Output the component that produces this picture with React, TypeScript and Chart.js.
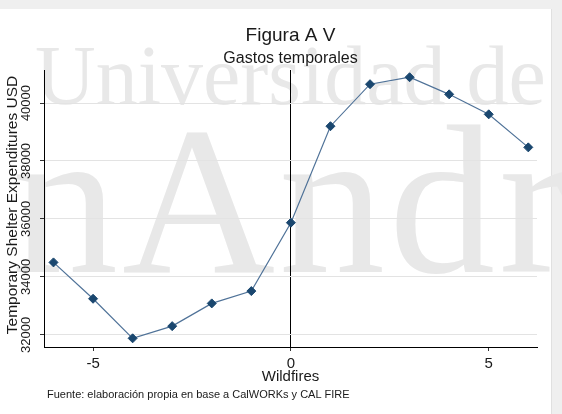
import React, { useEffect, useRef } from "react";
import { Chart, registerables } from "chart.js";

Chart.register(...registerables);

const xValues = [-6, -5, -4, -3, -2, -1, 0, 1, 2, 3, 4, 5, 6];
const spending = [34500, 33245, 31880, 32300, 33085, 33510, 35870, 39200, 40650, 40890, 40300, 39610, 38470];
const xTicks = [-5, 0, 5];
const yTicks = [32000, 34000, 36000, 38000, 40000];
const titleText = "Figura A V";
const subtitleText = "Gastos temporales";
const xTitle = "Wildfires";
const yTitle = "Temporary Shelter Expenditures USD";
const sourceNote = "Fuente: elaboración propia en base a CalWORKs y CAL FIRE";
const watermarkTop = "Universidad de";
const watermarkBottom = "nAndr";

const SANS = '"Liberation Sans", Arial, Helvetica, sans-serif';
const SERIF = '"Liberation Serif", "Times New Roman", serif';
const INK = "#1a1a1a";

const decor = {
  id: "decor",
  beforeDraw(chart: any) {
    const { ctx, width, height } = chart;
    ctx.save();
    ctx.fillStyle = "#efefef";
    ctx.fillRect(0, 0, width, height);
    ctx.fillStyle = "#ffffff";
    ctx.fillRect(0, 9, 551, height - 9);
    ctx.strokeStyle = "#e0e0e0";
    ctx.lineWidth = 1;
    ctx.beginPath();
    ctx.moveTo(551.5, 9);
    ctx.lineTo(551.5, height);
    ctx.stroke();
    ctx.fillStyle = "#e8e8e8";
    ctx.textAlign = "left";
    ctx.textBaseline = "alphabetic";
    ctx.font = `84px ${SERIF}`;
    ctx.fillText(watermarkTop, 35, 104);
    ctx.font = `212px ${SERIF}`;
    try { (ctx as any).letterSpacing = "4px"; } catch (e) {}
    ctx.fillText(watermarkBottom, 12, 272);
    try { (ctx as any).letterSpacing = "0px"; } catch (e) {}
    ctx.restore();
  },
  afterDraw(chart: any) {
    const { ctx, chartArea } = chart;
    const cx = (chartArea.left + chartArea.right) / 2;
    ctx.save();
    ctx.fillStyle = INK;
    ctx.textAlign = "center";
    ctx.textBaseline = "alphabetic";
    ctx.font = `19px ${SANS}`;
    ctx.fillText(titleText, cx, 41);
    ctx.font = `16px ${SANS}`;
    ctx.fillText(subtitleText, cx, 63);
    ctx.font = `15px ${SANS}`;
    ctx.fillText(xTitle, cx, 381);

    ctx.save();
    ctx.translate(16.5, 205);
    ctx.rotate(-Math.PI / 2);
    ctx.font = `15.5px ${SANS}`;
    ctx.fillText(yTitle, 0, 0);
    ctx.restore();

    const ys = chart.scales.y;
    ctx.font = `13px ${SANS}`;
    ys.ticks.forEach((t: any) => {
      const p = ys.getPixelForValue(t.value);
      ctx.save();
      ctx.translate(30, p);
      ctx.rotate(-Math.PI / 2);
      ctx.fillText(String(t.value), 0, 0);
      ctx.restore();
    });

    ctx.textAlign = "left";
    ctx.font = `11px ${SANS}`;
    ctx.fillText(sourceNote, 47, 398);
    ctx.restore();
  },
};

export default function App() {
  const ref = useRef<HTMLCanvasElement | null>(null);

  useEffect(() => {
    if (!ref.current) return;
    const chart = new Chart(ref.current, {
      type: "line",
      data: {
        datasets: [
          {
            data: xValues.map((x, i) => ({ x, y: spending[i] })),
            borderColor: "#4f7298",
            borderWidth: 1.2,
            pointStyle: "rectRot",
            pointRadius: 4.5,
            pointBorderWidth: 1,
            pointBackgroundColor: "#1a476f",
            pointBorderColor: "#1a476f",
            tension: 0,
            fill: false,
          },
        ],
      },
      options: {
        animation: false,
        responsive: false,
        devicePixelRatio: 1,
        layout: { padding: { left: 0, top: 70, right: 25, bottom: 0 } },
        plugins: { legend: { display: false }, tooltip: { enabled: false }, title: { display: false } },
        scales: {
          x: {
            type: "linear",
            min: -6.24,
            max: 6.22,
            afterBuildTicks: (s: any) => {
              s.ticks = xTicks.map((v) => ({ value: v }));
            },
            afterFit: (s: any) => {
              s.height = 67;
            },
            ticks: {
              color: INK,
              font: { family: SANS, size: 15 },
              padding: 4,
              maxRotation: 0,
              minRotation: 0,
            },
            grid: {
              color: (c: any) => (c.tick && c.tick.value === 0 ? "#000000" : "rgba(0,0,0,0)"),
              tickColor: "#333333",
              tickLength: 4,
              lineWidth: 1,
            },
            border: { display: true, color: "#000000", width: 1 },
          },
          y: {
            type: "linear",
            min: 31580,
            max: 41140,
            afterBuildTicks: (s: any) => {
              s.ticks = yTicks.map((v) => ({ value: v }));
            },
            afterFit: (s: any) => {
              s.width = 44;
            },
            ticks: { display: false },
            grid: {
              color: "#e3e3e3",
              tickColor: "#333333",
              tickLength: 4,
              lineWidth: 1,
            },
            border: { display: true, color: "#000000", width: 1 },
          },
        },
      },
      plugins: [decor],
    });
    return () => chart.destroy();
  }, []);

  return (
    <div style={{ position: "fixed", left: 0, top: 0, width: 562, height: 414 }}>
      <canvas ref={ref} width={562} height={414} style={{ display: "block", width: 562, height: 414 }} />
    </div>
  );
}
